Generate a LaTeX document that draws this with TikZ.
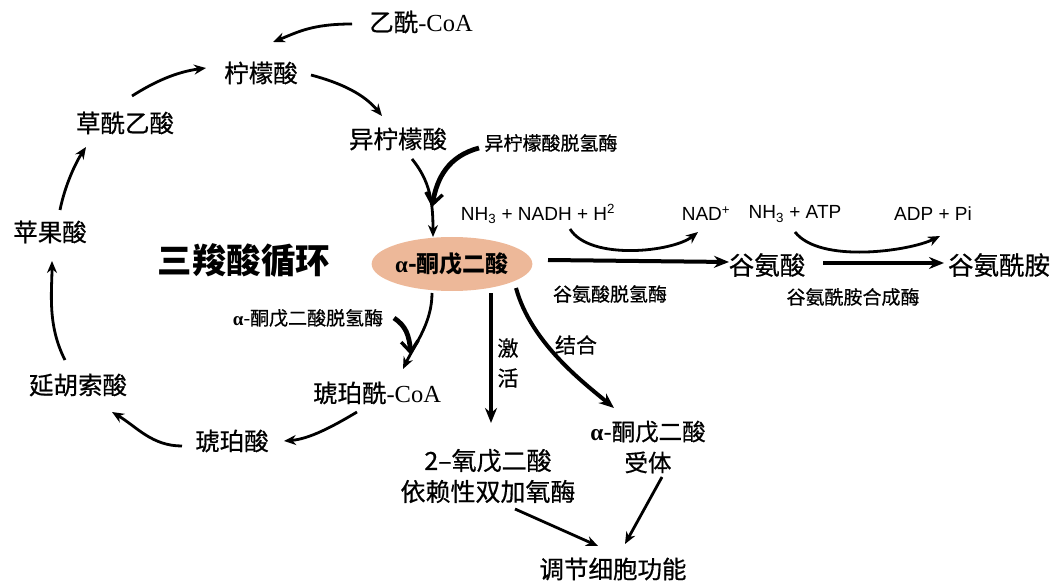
\documentclass[tikz,border=0pt]{standalone}
\usepackage{fontspec}
\setmainfont{Noto Sans CJK SC}[UprightFeatures={FakeBold=0.6}]
\newfontfamily\serif{Liberation Serif}
\newfontfamily\arial{Liberation Sans}
\usetikzlibrary{arrows.meta,calc,shapes.geometric}
\definecolor{peach}{HTML}{EDB899}
\begin{document}
\begin{tikzpicture}[x=1pt,y=-1pt,
  lab/.style={font=\fontsize{24.5}{28}\selectfont, inner sep=1pt},
  big/.style={font=\fontsize{25.5}{29}\selectfont, inner sep=1pt},
  small/.style={font=\fontsize{19}{22}\selectfont, inner sep=1pt},
  chem/.style={font=\arial\fontsize{19}{22}\selectfont, inner sep=1pt},
  arr/.style={-{Stealth[length=12pt,width=10pt]}, line width=2.8pt},
  tarr/.style={-{Stealth[length=15pt,width=12pt]}, line width=4pt},
  enz/.style={-{Straight Barb[length=11pt,width=17pt,line width=3.4pt]}, line width=4.8pt},
]
\useasboundingbox (0,0) rectangle (1057,585);

% nodes
\node[lab] (acoa) at (421,22) {乙酰{\serif -CoA}};
\node[lab] (cit) at (261,73) {柠檬酸};
\node[lab] (oaa) at (125,123) {草酰乙酸};
\node[lab] (icit) at (398,139) {异柠檬酸};
\node[small] (idh) at (551,143) {异柠檬酸脱氢酶};
\node[lab] (mal) at (50,232) {苹果酸};
\node[font=\fontsize{34.5}{38}\selectfont\bfseries, inner sep=1pt] (tca) at (244,260) {三羧酸循环};
\node[ellipse, fill=peach, minimum width=155pt, minimum height=54pt, inner sep=0pt,
      font=\fontsize{23}{26}\selectfont\bfseries] (akg) at (452,264) {{\serif\bfseries α}-酮戊二酸};
\node[chem] (nadh) at (538,214) {NH\textsubscript{3} + NADH + H\textsuperscript{2}};
\node[chem] (nad) at (706,214) {NAD\textsuperscript{+}};
\node[chem] (atp) at (795,214) {NH\textsubscript{3} + ATP};
\node[chem] (adp) at (933,214) {ADP + Pi};
\node[big] (glu) at (767,265) {谷氨酸};
\node[big] (gln) at (999,265) {谷氨酰胺};
\node[small] (gdh) at (610,294) {谷氨酸脱氢酶};
\node[small] (gs) at (853,297) {谷氨酰胺合成酶};
\node[small] (kgdh) at (308,318) {{\serif\bfseries α}-酮戊二酸脱氢酶};
\node[lab] (sca) at (377,393) {琥珀酰{\serif -CoA}};
\node[lab] (fum) at (78,385) {延胡索酸};
\node[lab] (suc) at (232,441) {琥珀酸};
\node[font=\fontsize{21}{30}\selectfont, inner sep=1pt, align=center] (act) at (508,363) {激\\活};
\node[font=\fontsize{21}{24}\selectfont, inner sep=1pt] (bind) at (576,345) {结合};
\node[lab, align=center, font=\fontsize{23.5}{31}\selectfont] (rec) at (648,447) {{\serif\bfseries α}-酮戊二酸\\受体};
\node[lab, align=center, font=\fontsize{25}{31}\selectfont] (dox) at (488,476) {2–氧戊二酸\\依赖性双加氧酶};
\node[lab] (reg) at (613,569) {调节细胞功能};

% TCA cycle
\draw[arr] ($(acoa)+(-69,2)$) .. controls +(-40,0) and +(25,-10) .. ($(cit)+(12,-31)$);
\draw[arr] ($(oaa)+(7,-27)$) .. controls +(22,-14) and +(-30,4) .. ($(cit)+(-55,-5)$);
\draw[arr] ($(cit)+(50,2)$) .. controls +(30,8) and +(-18,-22) .. ($(icit)+(-16,-23)$);
\draw[arr] ($(icit)+(14,20)$) .. controls +(18,22) and +(0,-35) .. ($(akg)+(-19,-27)$);
\draw[enz] ($(idh)+(-72,5)$) .. controls +(-30,8) and +(5,-30) .. ($(akg)+(-20,-57)$);
\draw[arr] ($(mal)+(10,-22)$) .. controls +(5,-25) and +(-10,15) .. ($(oaa)+(-39,24)$);
\draw[arr] ($(fum)+(-13,-25)$) .. controls +(-18,-35) and +(0,30) .. ($(mal)+(2,29)$);
\draw[arr] ($(suc)+(-50,5)$) .. controls +(-30,0) and +(25,15) .. ($(fum)+(34,27)$);
\draw[arr] ($(sca)+(-20,19)$) .. controls +(-25,15) and +(25,-2) .. ($(suc)+(52,0)$);
\draw[arr] ($(akg)+(-20,29)$) .. controls +(0,30) and +(12,-25) .. ($(sca)+(26,-24)$);
\draw[enz] ($(kgdh)+(86,0)$) .. controls +(12,8) and +(-2,-20) .. ($(sca)+(34,-38)$);

% glutamate branch
\draw[tarr] ($(akg)+(96,-4)$) -- ($(glu)+(-38,-3)$);
\draw[arr] ($(nadh)+(32,15)$) .. controls +(20,32) and +(-25,20) .. ($(nad)+(-8,18)$);
\draw[tarr] ($(glu)+(56,-2)$) -- ($(gln)+(-55,-2)$);
\draw[arr] ($(atp)+(0,18)$) .. controls +(25,32) and +(-30,15) .. ($(adp)+(7,22)$);

% lower branches
\draw[tarr] ($(akg)+(39,29)$) -- ($(dox)+(3,-53)$);
\draw[tarr] ($(akg)+(64,24)$) .. controls +(15,55) and +(-30,-25) .. ($(rec)+(-34,-39)$);
\draw[arr] ($(dox)+(27,33)$) -- ($(reg)+(-15,-23)$);
\draw[arr] ($(rec)+(14,30)$) -- ($(reg)+(12,-25)$);
\end{tikzpicture}
\end{document}
